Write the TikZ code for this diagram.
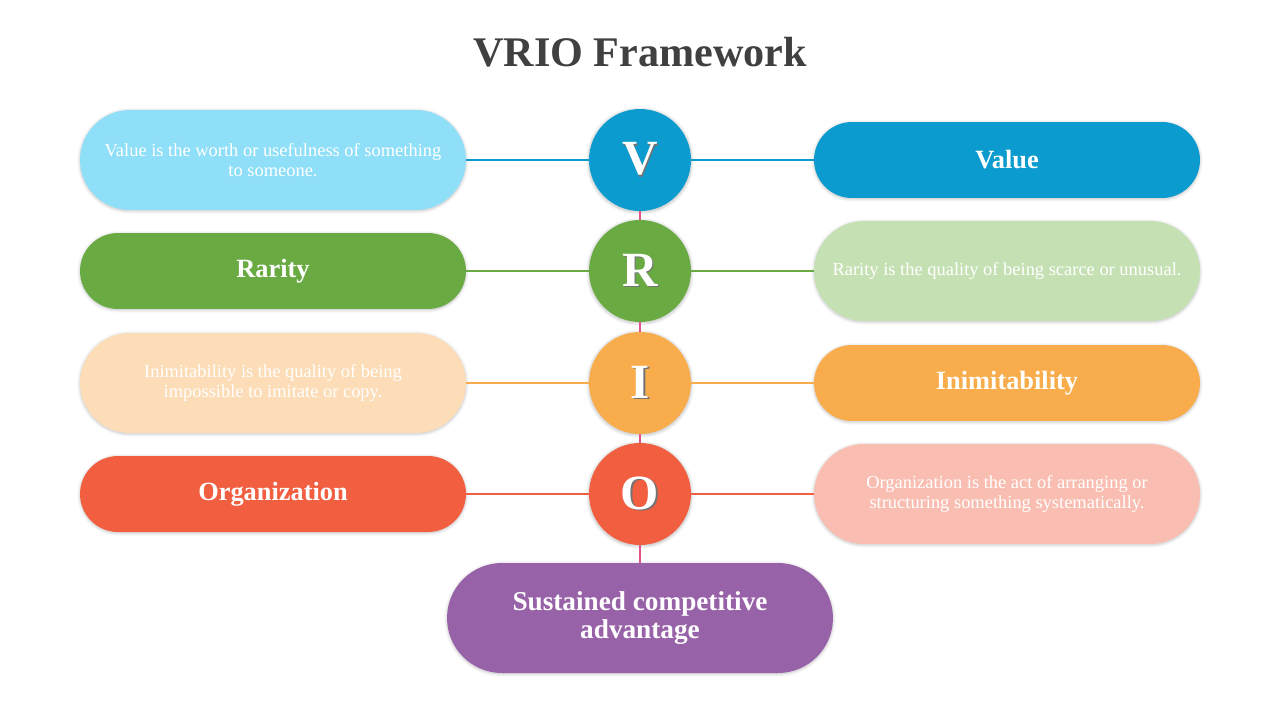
\documentclass[tikz,border=0pt]{standalone}
\usepackage{fontspec}
\setmainfont{Liberation Serif}
\usetikzlibrary{shadows.blur}
\definecolor{vblue}{HTML}{0B9BCE}
\definecolor{vbluel}{HTML}{8FDFF9}
\definecolor{rgreen}{HTML}{6AAA43}
\definecolor{rgreenl}{HTML}{C5E1B3}
\definecolor{iorange}{HTML}{F9AC4B}
\definecolor{iorangel}{HTML}{FCDDB7}
\definecolor{ored}{HTML}{F15E40}
\definecolor{oredl}{HTML}{F9BEB1}
\definecolor{spurple}{HTML}{9862A8}
\definecolor{spine}{HTML}{E2548B}
\definecolor{titlegrey}{HTML}{404040}
\newcommand{\tshad}[1]{\rlap{\kern0.9pt\raisebox{-0.9pt}{\color{black!55}#1}}#1}
\begin{document}
\begin{tikzpicture}[x=0.02cm, y=-0.02cm,
  shad/.style={blur shadow={shadow blur steps=8, shadow xshift=0pt, shadow yshift=-0.5pt, shadow opacity=25, shadow blur extra rounding=2pt}},
  pill/.style={rounded corners=0.76cm, minimum width=7.72cm, minimum height=1.52cm, text=white, font=\fontsize{15}{18}\selectfont\bfseries, shad},
  note/.style={rounded corners=1cm, minimum width=7.72cm, minimum height=2cm, text=white, align=center, font=\fontsize{10.5}{11.5}\selectfont, shad},
  letter/.style={circle, minimum size=2.04cm, inner sep=0pt, text=white, font=\fontsize{28}{30}\selectfont\bfseries, shad},
  link/.style={line width=1.2pt}]
\useasboundingbox (0,0) rectangle (1280,720);
\node[text=titlegrey, font=\fontsize{24}{28}\selectfont\bfseries] (title) at (640,52) {VRIO Framework};
% letters in the middle
\node[letter, fill=vblue] (V) at (640,160) {\tshad{V}};
\node[letter, fill=rgreen] (R) at (640,271) {\tshad{R}};
\node[letter, fill=iorange] (I) at (640,383) {\tshad{I}};
\node[letter, fill=ored] (O) at (640,494) {\tshad{O}};
\node[rounded corners=1.1cm, minimum width=7.72cm, minimum height=2.2cm, fill=spurple, text=white, align=center, font=\fontsize{15.5}{16}\selectfont\bfseries, shad] (sca) at (640,618) {Sustained competitive\\advantage};
% left column
\node[note, fill=vbluel] (vnote) at (273,160) {Value is the worth or usefulness of something\\to someone.};
\node[pill, fill=rgreen] (rname) at (273,271) {Rarity};
\node[note, fill=iorangel] (inote) at (273,383) {Inimitability is the quality of being\\impossible to imitate or copy.};
\node[pill, fill=ored] (oname) at (273,494) {Organization};
% right column
\node[pill, fill=vblue] (vname) at (1007,160) {Value};
\node[note, fill=rgreenl] (rnote) at (1007,271) {Rarity is the quality of being scarce or unusual.};
\node[pill, fill=iorange] (iname) at (1007,383) {Inimitability};
\node[note, fill=oredl] (onote) at (1007,494) {Organization is the act of arranging or\\structuring something systematically.};
% links
\draw[link, vblue] (vnote.east) -- (V.west);
\draw[link, vblue] (V.east) -- (vname.west);
\draw[link, rgreen] (rname.east) -- (R.west);
\draw[link, rgreen] (R.east) -- (rnote.west);
\draw[link, iorange] (inote.east) -- (I.west);
\draw[link, iorange] (I.east) -- (iname.west);
\draw[link, ored] (oname.east) -- (O.west);
\draw[link, ored] (O.east) -- (onote.west);
\draw[link, spine] (V.south) -- (R.north);
\draw[link, spine] (R.south) -- (I.north);
\draw[link, spine] (I.south) -- (O.north);
\draw[link, spine] (O.south) -- (sca.north);
\end{tikzpicture}
\end{document}
